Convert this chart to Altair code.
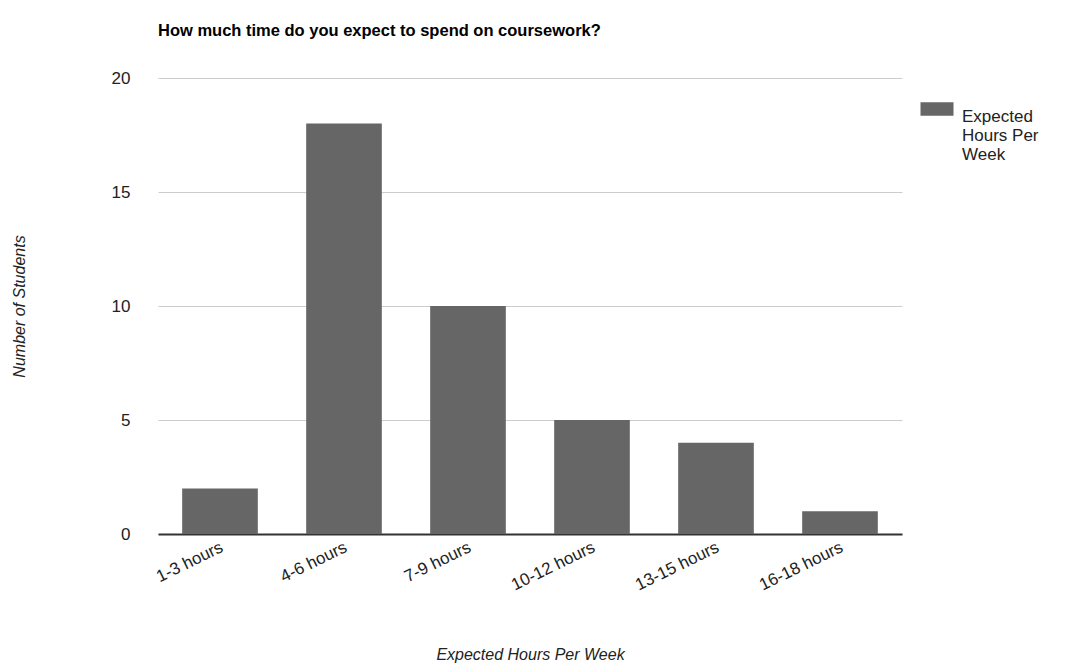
import altair as alt
import pandas as pd

categories = ["1-3 hours", "4-6 hours", "7-9 hours", "10-12 hours", "13-15 hours", "16-18 hours"]
counts = [2, 18, 10, 5, 4, 1]
series_name = "Expected Hours Per Week"

df = pd.DataFrame({"hours": categories, "students": counts, "series": [series_name] * len(categories)})

FONT = "Liberation Sans"

chart = alt.Chart(df).mark_bar(color="#666666").encode(
    x=alt.X("hours:N", sort=categories,
            scale=alt.Scale(paddingInner=0.39, paddingOuter=0.195),
            axis=alt.Axis(title="Expected Hours Per Week", labelAngle=-26, labelAlign="right",
                          labelBaseline="middle", labelPadding=12, labelOffset=2, ticks=False,
                          domainColor="#333333", domainWidth=2,
                          labelFont=FONT, labelFontSize=17, labelColor="#222222",
                          titleFont=FONT, titleFontSize=16, titleFontStyle="italic",
                          titleFontWeight="normal", titleColor="#222222", titlePadding=54)),
    y=alt.Y("students:Q", scale=alt.Scale(domain=[0, 20], nice=False),
            axis=alt.Axis(title="Number of Students", values=[0, 5, 10, 15, 20], ticks=False,
                          domain=False, gridColor="#cccccc", labelPadding=28,
                          labelFont=FONT, labelFontSize=17, labelColor="#222222",
                          titleFont=FONT, titleFontSize=16, titleFontStyle="italic",
                          titleFontWeight="normal", titleColor="#222222", titlePadding=84)),
    color=alt.Color("series:N", scale=alt.Scale(range=["#666666"]),
                    legend=alt.Legend(title=None, orient="none", legendX=764, legendY=16,
                                      symbolType="M-1.1,-0.45H1.1V0.45H-1.1Z", symbolSize=900,
                                      symbolStrokeWidth=0, symbolOpacity=1,
                                      labelExpr="['Expected', 'Hours Per', 'Week']",
                                      labelFont=FONT, labelFontSize=17, labelColor="#222222",
                                      labelBaseline="top",
                                      labelOffset=10, labelLimit=200)),
).properties(
    width=744, height=456,
    title=alt.TitleParams("How much time do you expect to spend on coursework?", anchor="start",
                          frame="group", font=FONT, fontSize=16.5, fontWeight="bold",
                          color="#000000", offset=30),
    autosize=alt.AutoSizeParams(type="none"),
    padding={"left": 158, "top": 78, "right": 169, "bottom": 131},
    background="white",
).configure_view(stroke=None)

chart.save("out.html", embed_options={"renderer": "svg", "actions": False})
